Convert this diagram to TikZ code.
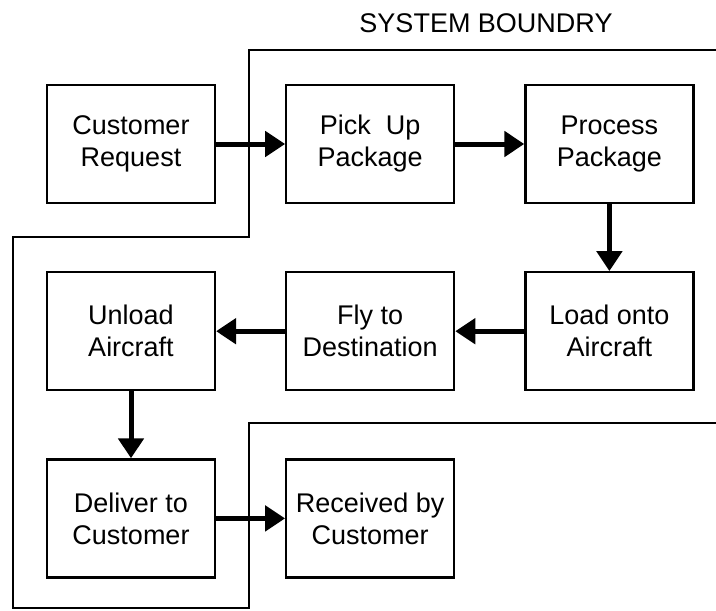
\documentclass[tikz,border=0pt]{standalone}
\usepackage{fontspec}
\setmainfont{Liberation Sans}
\usetikzlibrary{arrows.meta, positioning}

\begin{document}
\begin{tikzpicture}[
  x=1pt, y=-1pt,
  node distance=67pt and 69pt,
  every node/.style={font=\fontsize{27}{32}\selectfont},
  stepbox/.style={draw, line width=2.2pt, align=center, minimum width=168pt, minimum height=118pt, inner sep=0pt},
  flow/.style={line width=5pt, -{Triangle[length=20pt, width=25pt]}},
  bound/.style={line width=1.8pt}
]
  \useasboundingbox (0,0) rectangle (716,611);

  % system boundary
  \node[anchor=base] (title) at (486,32) {SYSTEM BOUNDRY};
  \draw[bound] (716,50) -- (249,50) -- (249,237) -- (13,237) -- (13,608) -- (249,608) -- (249,423) -- (716,423);

  \node[stepbox] (req) at (131,144) {Customer\\Request};
  \node[stepbox, right=of req] (pick) {Pick~ Up\\Package};
  \node[stepbox, right=of pick] (proc) {Process\\Package};
  \node[stepbox, below=of proc] (load) {Load onto\\Aircraft};
  \node[stepbox, left=of load] (fly) {Fly to\\Destination};
  \node[stepbox, left=of fly] (unld) {Unload\\Aircraft};
  \node[stepbox, below=of unld] (dlvr) {Deliver to\\Customer};
  \node[stepbox, right=of dlvr] (rcvd) {Received by\\Customer};

  \foreach \a/\b in {req/pick, pick/proc, proc/load, load/fly, fly/unld, unld/dlvr, dlvr/rcvd}
    \draw[flow] (\a) -- (\b);
\end{tikzpicture}
\end{document}
